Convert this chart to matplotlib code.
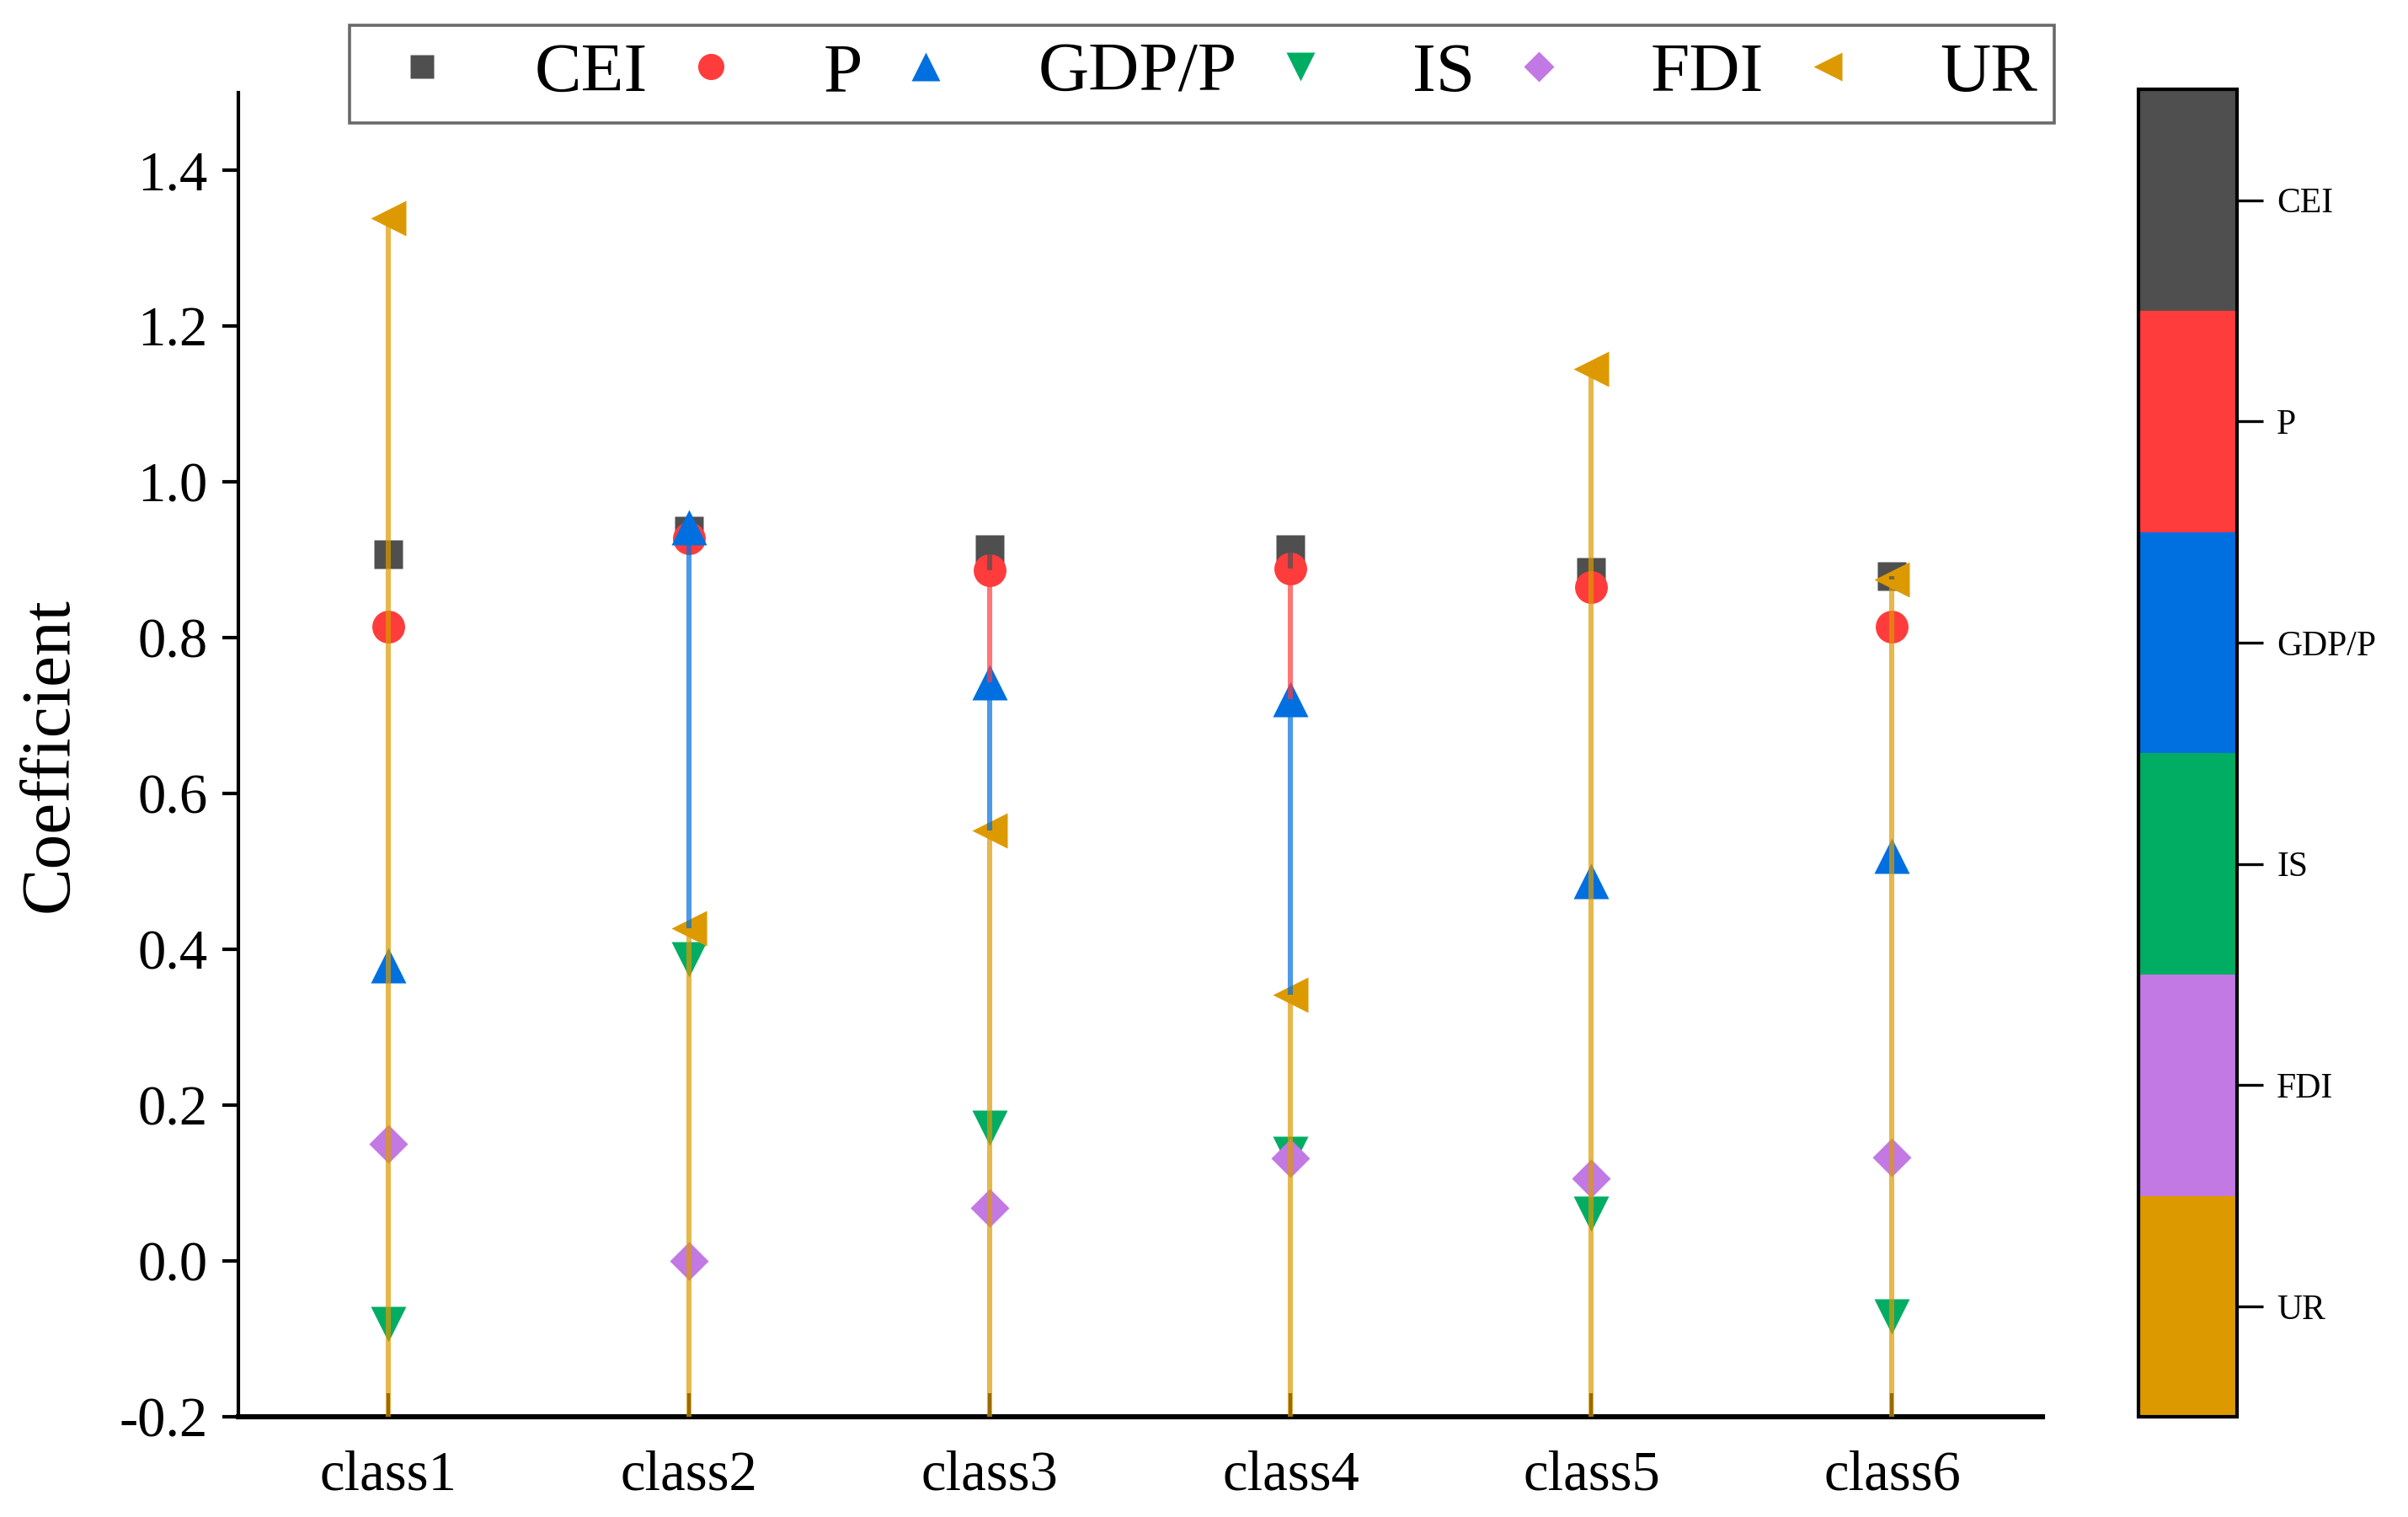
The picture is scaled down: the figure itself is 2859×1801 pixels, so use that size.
import numpy as np
import matplotlib.pyplot as plt
from matplotlib.colors import ListedColormap, BoundaryNorm
from matplotlib.lines import Line2D
import matplotlib as mpl

plt.rcParams['font.family'] = ['Liberation Serif', 'DejaVu Serif']
plt.rcParams['axes.unicode_minus'] = False

# data
classes = ['class1', 'class2', 'class3', 'class4', 'class5', 'class6']
series = ['CEI', 'P', 'GDP/P', 'IS', 'FDI', 'UR']
cei = [0.907, 0.938, 0.914, 0.914, 0.885, 0.879]
p = [0.814, 0.928, 0.887, 0.889, 0.865, 0.814]
gdp_p = [0.380, 0.942, 0.743, 0.722, 0.488, 0.521]
is_ = [-0.081, 0.387, 0.171, 0.138, 0.061, -0.071]
fdi = [0.151, 0.000, 0.069, 0.132, 0.106, 0.134]
ur = [1.339, 0.427, 0.553, 0.342, 1.145, 0.875]
values = [cei, p, gdp_p, is_, fdi, ur]

colors = ['#4F4F4F', '#FF3C3C', '#006FE0', '#00AD63', '#C279E3', '#DC9A00']
markers = ['s', 'o', '^', 'v', 'D', '<']
msizes = [12.5, 14, 15, 15, 11.5, 15]
base = -0.2

fig = plt.figure(figsize=(2859 / 200, 1801 / 200), dpi=200)
ax = fig.add_axes([0.0989, 0.0658, 0.7493, 0.8732])

x = np.arange(1, len(classes) + 1)
vals = np.array(values)

# markers
for k in range(len(series)):
    ax.plot(x, vals[k], linestyle='none', marker=markers[k], ms=msizes[k],
            color=colors[k], mec='none', zorder=2.8)

# stems: later series cover earlier ones from the baseline up
for k in range(len(series)):
    later = vals[k + 1:]
    lo = np.full(len(x), base)
    if len(later):
        lo = np.maximum(lo, later.max(axis=0))
    show = vals[k] > lo
    ax.vlines(x[show], lo[show], vals[k][show], colors=colors[k],
              alpha=0.7, lw=2.2, zorder=3)

ax.set_xlim(0.5, 6.5)
ax.set_ylim(-0.2, 1.5)
ax.set_xticks(x)
ax.set_xticklabels(classes)
ax.set_yticks(np.arange(-0.2, 1.41, 0.2))
ax.set_yticklabels(['%.1f' % v for v in np.arange(-0.2, 1.41, 0.2)])
ax.tick_params(axis='x', direction='in', length=10, width=1.5, labelsize=24, pad=14)
ax.tick_params(axis='y', direction='out', length=7, width=1.5, labelsize=24, pad=6)
ax.spines['top'].set_visible(False)
ax.spines['right'].set_visible(False)
ax.spines['left'].set_linewidth(1.5)
ax.spines['bottom'].set_linewidth(2.2)
ax.set_ylabel('Coefficient', fontsize=30, labelpad=16)

# legend
handles = [Line2D([], [], linestyle='none', marker=markers[k], color=colors[k],
                  mec='none', ms=msizes[k] * 0.8) for k in range(len(series))]
leg = fig.legend(handles, series, loc='lower left',
                 bbox_to_anchor=(0.145, 0.919, 0.708, 0.064), mode='expand',
                 ncol=6, fontsize=30, frameon=True, fancybox=False,
                 borderaxespad=0, handlelength=1.6, handletextpad=0.8,
                 borderpad=0.24, columnspacing=0.5)
leg.get_frame().set_edgecolor('#444444')
leg.get_frame().set_linewidth(1.3)

# colour key
cax = fig.add_axes([0.888, 0.0658, 0.041, 0.8752])
cmap = ListedColormap(colors[::-1])
norm = BoundaryNorm(np.arange(0, 7), cmap.N)
cb = fig.colorbar(mpl.cm.ScalarMappable(norm=norm, cmap=cmap), cax=cax,
                  ticks=np.arange(0.5, 6))
cb.set_ticklabels(series[::-1])
cb.ax.minorticks_off()
cb.ax.tick_params(length=11, width=1.2, labelsize=15, pad=6)
cb.outline.set_linewidth(1.5)

fig.savefig('out.png', dpi=200)
